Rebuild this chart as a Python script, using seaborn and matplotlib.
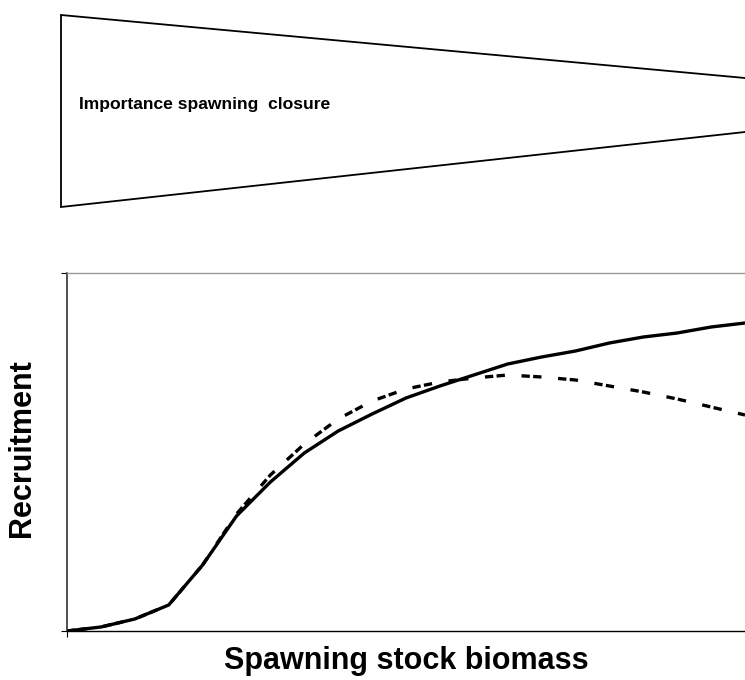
"""Spawning closure importance vs. stock-recruitment curves."""

import matplotlib

matplotlib.use("Agg")
import matplotlib.pyplot as plt
import numpy as np
import pandas as pd
import seaborn as sns

# biomass steps (equally spaced categories, as in the original spreadsheet chart)
biomass = list(range(21))

# recruitment (axis runs 0..358)
recruit_solid = [0, 4, 12, 26, 66, 115, 149, 178, 200, 217, 233,
                 245, 256, 267, 274, 280, 288, 294, 298, 304, 308]
recruit_dashed = [0, 4, 12, 26, 66, 117, 156, 187, 212, 230, 242,
                  249, 253, 256, 254, 251, 245, 239, 232, 224, 216]
recruit_max = 358

# wedge outline in figure pixels (top schematic)
wedge_x = [745, 61, 61, 745]
wedge_y = [78, 15, 207, 132]

wedge_label = "Importance spawning  closure"
x_label = "Spawning stock biomass"
y_label = "Recruitment"

W, H = 745, 680

sns.set_theme(style="white")
plt.rcParams["font.family"] = ["Liberation Sans", "DejaVu Sans"]
plt.rcParams["text.color"] = "black"
plt.rcParams["axes.labelcolor"] = "black"

fig = plt.figure(figsize=(W / 100, H / 100), dpi=100)
fig.patch.set_facecolor("white")

# lower panel: the two recruitment curves
ax = fig.add_axes([67 / W, (H - 631) / H, (W - 67) / W, (631 - 273) / H])
df = pd.DataFrame({
    "biomass": biomass * 2,
    "recruitment": recruit_solid + recruit_dashed,
    "curve": ["solid"] * len(biomass) + ["dashed"] * len(biomass),
})
sns.lineplot(
    data=df, x="biomass", y="recruitment", style="curve",
    dashes={"solid": "", "dashed": (2.5, 1.0, 2.5, 5.0)},
    color="black", linewidth=2.4, legend=False, ax=ax,
    estimator=None, sort=False,
)
ax.set_xlim(biomass[0], biomass[-1])
ax.set_ylim(0, recruit_max)
ax.set_xticks([biomass[0]])
ax.set_yticks([0, recruit_max])
ax.set_xticklabels([])
ax.set_yticklabels([])
ax.tick_params(axis="both", direction="out", length=4.5, width=0.8,
               color="black", bottom=True, left=True)
ax.spines["top"].set_color("#999999")
ax.spines["top"].set_linewidth(1.0)
ax.spines["left"].set_color("#222222")
ax.spines["left"].set_linewidth(1.1)
ax.spines["bottom"].set_color("black")
ax.spines["bottom"].set_linewidth(1.0)
ax.spines["right"].set_visible(False)
ax.set_xlabel(x_label, fontsize=22, fontweight="bold")
ax.set_ylabel(y_label, fontsize=22, fontweight="bold")
ax.xaxis.set_label_coords(0.5, -0.043)
ax.yaxis.set_label_coords(-0.044, 0.51)

# upper panel: wedge schematic in pixel coordinates
top = fig.add_axes([0, 0, 1, 1], zorder=-1)
top.set_xlim(0, W)
top.set_ylim(H, 0)
top.axis("off")
top.plot(wedge_x, wedge_y, color="black", linewidth=1.3, solid_joinstyle="miter")
top.text(79, 105, wedge_label, fontsize=12.6, fontweight="bold",
         ha="left", va="center")

fig.savefig("out.png", dpi=100, facecolor="white")
